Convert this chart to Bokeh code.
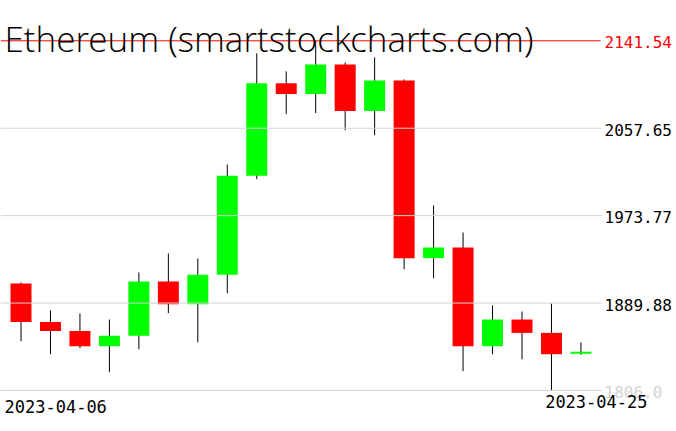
from bokeh.plotting import figure
from bokeh.models import Range1d, ColumnDataSource
from bokeh.core.properties import value
from bokeh.embed import file_html
from bokeh.resources import INLINE

# ---- data ----
dates = ["2023-04-06", "2023-04-07", "2023-04-08", "2023-04-09", "2023-04-10",
         "2023-04-11", "2023-04-12", "2023-04-13", "2023-04-14", "2023-04-15",
         "2023-04-16", "2023-04-17", "2023-04-18", "2023-04-19", "2023-04-20",
         "2023-04-21", "2023-04-22", "2023-04-23", "2023-04-24", "2023-04-25"]
opens = [1908.7, 1871.8, 1863.0, 1848.5, 1858.5, 1910.6, 1888.8, 1917.0, 2012.0, 2100.7,
         2090.4, 2118.9, 2074.1, 2103.5, 1933.0, 1943.3, 1848.5, 1874.1, 1861.3, 1841.3]
closes = [1871.8, 1863.0, 1848.5, 1858.5, 1910.6, 1888.8, 1917.0, 2012.0, 2100.7, 2090.4,
          2118.9, 2074.1, 2103.5, 1933.0, 1943.3, 1848.5, 1874.1, 1861.3, 1840.8, 1843.2]
highs = [1909.7, 1882.8, 1879.9, 1874.1, 1919.3, 1937.5, 1932.7, 2022.9, 2129.5, 2112.2,
         2141.54, 2120.8, 2125.6, 2104.5, 1983.6, 1957.6, 1887.6, 1881.8, 1889.5, 1852.1]
lows = [1853.3, 1840.8, 1846.6, 1823.6, 1845.6, 1880.2, 1852.4, 1899.4, 2008.8, 2071.2,
        2072.2, 2055.8, 2051.0, 1922.4, 1913.8, 1824.5, 1840.8, 1836.0, 1806.0, 1840.3]
tick_labels = ["1806.0", "1889.88", "1973.77", "2057.65", "2141.54"]
title_text = "Ethereum (smartstockcharts.com)"

# ---- layout helpers (picture pixel -> data) ----
W, H = 674, 422
OFF = 0               # where the canvas starts in the picture
STEP = 29.47          # px between candles
FIRST_X = 20.5        # picture x of first candle centre
LO, HI = min(lows), max(highs)
Y_LO, Y_HI = 390.0, 40.3   # picture y of LO and HI
PPU = (Y_LO - Y_HI) / (HI - LO)

def sx(px):
    return (px - FIRST_X) / STEP

def sy(py):
    return LO + (Y_LO - py) / PPU

p = figure(width=W, height=H, output_backend="svg", toolbar_location=None,
           x_axis_type=None, y_axis_type=None,
           x_range=Range1d(sx(OFF), sx(OFF + W)),
           y_range=Range1d(sy(OFF + H), sy(OFF)),
           min_border=0, min_border_left=0, min_border_right=0,
           min_border_top=0, min_border_bottom=0)
p.outline_line_color = None
p.grid.visible = False
p.background_fill_color = "white"
p.border_fill_color = "white"

n = len(dates)
xs = list(range(n))
up = [c >= o for o, c in zip(opens, closes)]
src = ColumnDataSource(dict(
    x=xs, high=highs, low=lows,
    top=[max(o, c) for o, c in zip(opens, closes)],
    bottom=[min(o, c) for o, c in zip(opens, closes)],
    color=["#00ff00" if u else "#ff0000" for u in up],
))

# wicks then bodies
p.segment(x0="x", y0="high", x1="x", y1="low", source=src, line_color="black", line_width=1)
p.vbar(x="x", width=21 / STEP, top="top", bottom="bottom", source=src,
       fill_color="color", line_color=None)

# horizontal grid lines (over the candles)
ticks = [LO + k * (HI - LO) / 4 for k in range(5)]
grid_end = sx(601)
p.segment(x0=[sx(0)] * 4, y0=ticks[:4], x1=[grid_end] * 4, y1=ticks[:4],
          line_color="#d3d3d3", line_width=1)
# max line in red
p.segment(x0=[sx(0)], y0=[HI], x1=[sx(600)], y1=[HI], line_color="#ff0000", line_width=1)

# right price labels
label_colors = ["#d3d3d3", "black", "black", "black", "#ff0000"]
p.text(x=[sx(604)] * 5, y=[t - 1.5 / PPU for t in ticks], text=tick_labels,
       text_color=label_colors, text_font=value("DejaVu Sans Mono"),
       text_font_size="16px", text_align="left", text_baseline="alphabetic")

# date labels
p.text(x=[sx(4)], y=[sy(406)], text=[dates[0]], text_color="black",
       text_font=value("DejaVu Sans Mono"), text_font_size="17px",
       text_align="left", text_baseline="alphabetic")
p.text(x=[sx(647)], y=[sy(401)], text=[dates[-1]], text_color="black",
       text_font=value("DejaVu Sans Mono"), text_font_size="17px",
       text_align="right", text_baseline="alphabetic")

# title
p.text(x=[sx(4)], y=[sy(37.7)], text=[title_text], text_color="black",
       text_font=value("Open Sans Light, DejaVu Sans"),
       text_font_size="35px",
       text_align="left", text_baseline="alphabetic")

open("out.html", "w").write(file_html(p, INLINE))
